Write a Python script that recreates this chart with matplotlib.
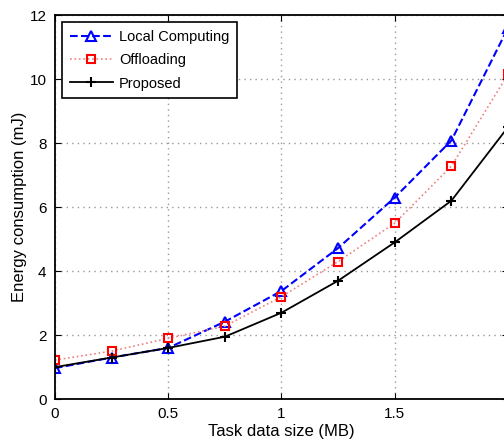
import matplotlib
matplotlib.use('Agg')
import matplotlib.pyplot as plt
import numpy as np

plt.rcParams['font.family'] = ['Liberation Sans', 'DejaVu Sans']

# task data size (MB)
x = [0, 0.25, 0.5, 0.75, 1.0, 1.25, 1.5, 1.75, 2.0]
# energy consumption (mJ)
local = [0.97, 1.3, 1.6, 2.42, 3.38, 4.72, 6.3, 8.08, 11.6]
offload = [1.22, 1.5, 1.9, 2.28, 3.2, 4.3, 5.5, 7.28, 10.15]
proposed = [1.0, 1.3, 1.6, 1.95, 2.7, 3.7, 4.9, 6.2, 8.5]

xticks = [0, 0.5, 1, 1.5, 2]
xticklabels = ['0', '0.5', '1', '1.5', '2']
yticks = [0, 2, 4, 6, 8, 10, 12]

fig = plt.figure(figsize=(5.04, 4.43), dpi=100)
ax = fig.add_axes([0.109, 0.099, 0.899, 0.867])

ax.plot(x, local, color='blue', linestyle='--', linewidth=1.5, marker='^',
        markersize=7, markerfacecolor='none', markeredgewidth=1.5, label='Local Computing')
ax.plot(x, offload, color='#f08080', linestyle=':', linewidth=1.2, marker='s',
        markersize=6, markerfacecolor='none', markeredgecolor='red', markeredgewidth=1.5,
        label='Offloading')
ax.plot(x, proposed, color='black', linestyle='-', linewidth=1.3, marker='+',
        markersize=7, markeredgewidth=1.5, label='Proposed')

ax.set_xlim(0, 2)
ax.set_ylim(0, 12)
ax.set_xticks(xticks)
ax.set_xticklabels(xticklabels)
ax.set_yticks(yticks)
ax.tick_params(direction='in', top=True, right=True, labelsize=11, length=4, pad=6)
ax.grid(True, linestyle=(0, (1, 3)), color='#999999', linewidth=1.0)
for s in ax.spines.values():
    s.set_linewidth(1.3)

ax.set_xlabel('Task data size (MB)', fontsize=12, labelpad=2)
ax.set_ylabel('Energy consumption (mJ)', fontsize=12, labelpad=2)

leg = ax.legend(loc='upper left', fontsize=10.5, fancybox=False, framealpha=1,
                edgecolor='black', borderaxespad=0.5, handlelength=3,
                labelspacing=0.65, borderpad=0.5, handletextpad=0.4)
leg.get_frame().set_linewidth(1.2)

fig.savefig('out.png', dpi=100)
